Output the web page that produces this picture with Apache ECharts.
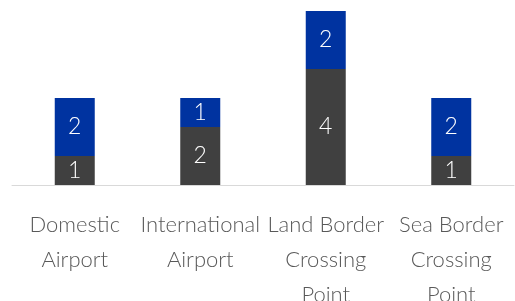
<!DOCTYPE html>
<html>
<head>
<meta charset="utf-8">
<script src="https://cdn.jsdelivr.net/npm/echarts@6/dist/echarts.min.js"></script>
<style>
html, body { margin: 0; padding: 0; background: #fff; }
#chart { width: 515px; height: 301px; }
</style>
</head>
<body>
<div id="chart"></div>
<script>
// categories and the two stacked series
var categories = ['Domestic\nAirport', 'International\nAirport', 'Land Border\nCrossing\nPoint', 'Sea Border\nCrossing\nPoint'];
var lowerValues = [1, 2, 4, 1];
var upperValues = [2, 1, 2, 2];

var myChart = echarts.init(document.getElementById('chart'));

var labelStyle = {
    show: true,
    position: 'inside',
    color: '#fff',
    fontFamily: 'Lato',
    fontWeight: 300,
    fontSize: 23
};

var option = {
    animation: false,
    backgroundColor: '#fff',
    grid: { left: 12, right: 1, top: 11, bottom: 116, containLabel: false, outerBoundsMode: 'none' },
    xAxis: {
        type: 'category',
        data: categories,
        axisLine: { lineStyle: { color: '#d9d9d9', width: 1 } },
        axisTick: { show: false },
        axisLabel: {
            interval: 0,
            color: '#595959',
            fontFamily: 'Lato',
            fontWeight: 300,
            fontSize: 22,
            lineHeight: 35,
            margin: 22
        }
    },
    yAxis: {
        type: 'value',
        min: 0,
        max: 6,
        show: false,
        splitLine: { show: false }
    },
    series: [
        {
            name: 'lower',
            type: 'bar',
            stack: 'total',
            barWidth: 40,
            itemStyle: { color: '#404040' },
            label: labelStyle,
            data: lowerValues
        },
        {
            name: 'upper',
            type: 'bar',
            stack: 'total',
            barWidth: 40,
            itemStyle: { color: '#0033a0' },
            label: labelStyle,
            data: upperValues
        }
    ]
};

myChart.setOption(option);
</script>
</body>
</html>
